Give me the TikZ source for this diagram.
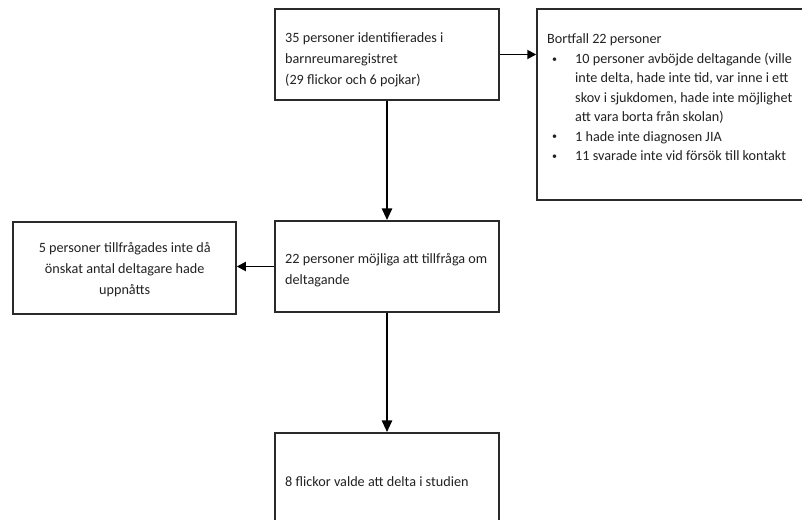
\documentclass[tikz,border=0pt]{standalone}
\usepackage{fontspec}
\setmainfont{Carlito}
\usetikzlibrary{arrows.meta,calc}
\definecolor{ink}{HTML}{222222}
\definecolor{frame}{HTML}{2A2A2A}
\newcommand{\smallbul}{\hspace*{5pt}\makebox[23pt][l]{\raisebox{1pt}{\fontsize{10}{10}\selectfont •}}}
\tikzset{
  box/.style={draw=frame, line width=1.5pt, fill=white, inner sep=0pt, minimum width=224pt},
  txt/.style={anchor=base west, inner sep=0pt, text=ink, font=\fontsize{14.2}{21}\selectfont},
  bigarrow/.style={draw=black, line width=2.8pt, -{Triangle[length=12pt,width=10pt]}},
  smallarrow/.style={draw=black, line width=1.8pt, -{Triangle[length=9pt,width=9pt]}}
}
\begin{document}
\begin{tikzpicture}[x=1pt,y=-1pt]
\useasboundingbox (0,0) rectangle (802,519);
\clip (0,0) rectangle (802,519);
\fill[white] (0,0) rectangle (802,519);
% boxes
\node[box, minimum height=91pt] (top) at (387,54.5) {};
\node[box, minimum width=276pt, minimum height=191pt] (right) at (675,104.5) {};
\node[box, minimum width=223pt, minimum height=92pt] (left) at (124.5,268) {};
\node[box, minimum height=91pt] (mid) at (387,266.5) {};
\node[box, minimum height=98pt] (bot) at (387,482) {};
% texts
\node[txt] (toptext) at (285,42) {\parbox[t]{210pt}{\raggedright 35 personer identifierades i\\ barnreumaregistret\\ (29 flickor och 6 pojkar)}};
\node[txt, font=\fontsize{14.2}{19.4}\selectfont] (righttext) at (547,44) {\parbox[t]{262pt}{\setlength{\parindent}{0pt}Bortfall 22 personer\par
\hangindent=28pt\hangafter=1\smallbul 10 personer avböjde deltagande (ville\\ inte delta, hade inte tid, var inne i ett\\ skov i sjukdomen, hade inte möjlighet\\ att vara borta från skolan)\par
\smallbul 1 hade inte diagnosen JIA\par
\smallbul 11 svarade inte vid försök till kontakt}};
\node[txt] (lefttext) at (13,252) {\parbox[t]{223pt}{\centering 5 personer tillfrågades inte då\\ önskat antal deltagare hade\\ uppnåtts}};
\node[txt] (midtext) at (285,263) {\parbox[t]{210pt}{\raggedright 22 personer möjliga att tillfråga om\\ deltagande}};
\node[txt] (bottext) at (285,486) {8 flickor valde att delta i studien};
% connectors
\draw[bigarrow] (top.south) -- (mid.north);
\draw[bigarrow] (mid.south) -- (bot.north);
\draw[smallarrow] (top.east) -- (top.east -| right.west);
\draw[smallarrow] (mid.west) -- (mid.west -| left.east);
\end{tikzpicture}
\end{document}
